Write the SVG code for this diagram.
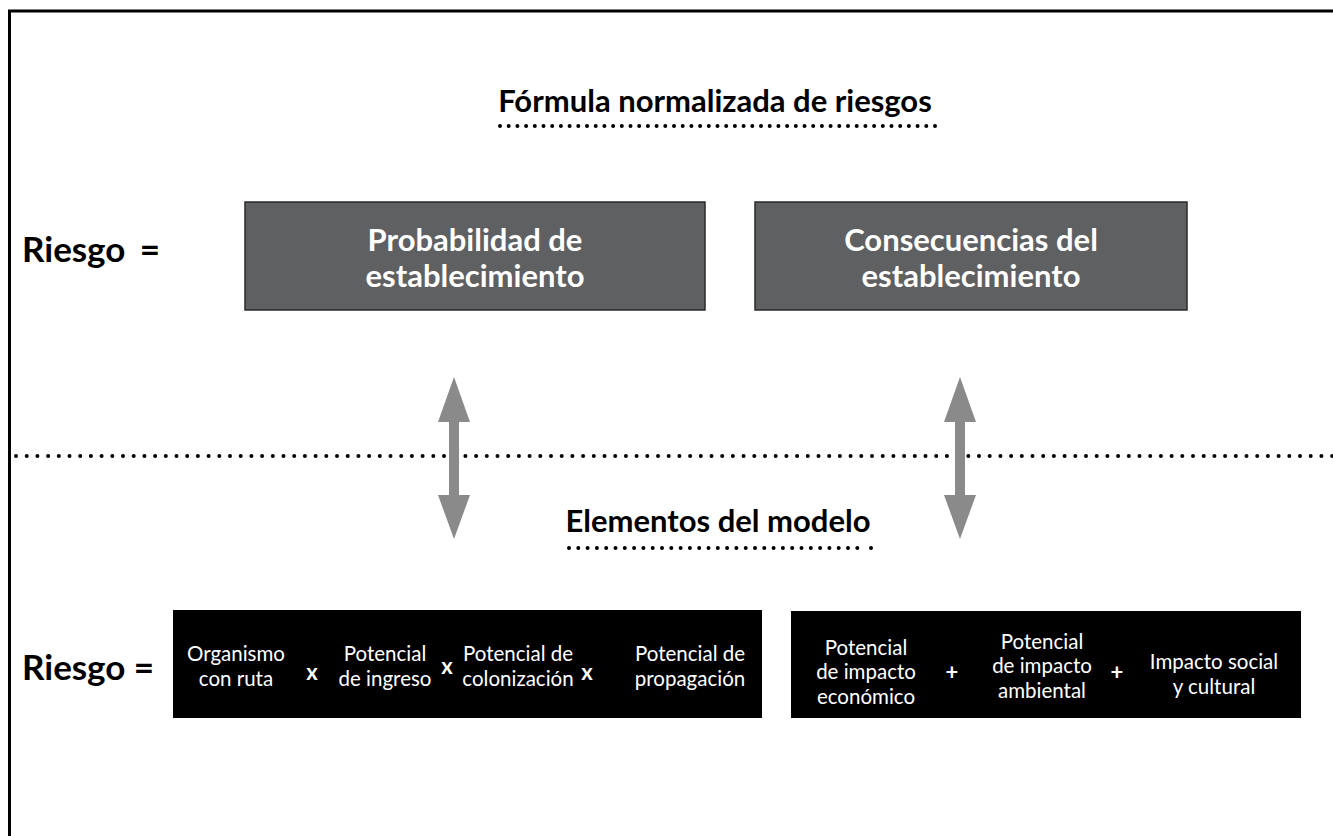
<svg xmlns="http://www.w3.org/2000/svg" width="1333" height="836" viewBox="0 0 1333 836">
<style>
.h{font-family:Lato,"Open Sans","Liberation Sans",sans-serif;font-weight:bold;fill:#000}
.bx{font-family:Lato,"Open Sans","Liberation Sans",sans-serif;font-weight:bold;fill:#fff;font-size:31px;text-anchor:middle}
.t{font-family:Lato,"Open Sans","Liberation Sans",sans-serif;fill:#fff;font-size:20.5px;text-anchor:middle}
.op{font-family:Lato,"Open Sans","Liberation Sans",sans-serif;font-weight:bold;fill:#fff;font-size:22px;text-anchor:middle}
.dots{stroke:#000;stroke-linecap:round;stroke-width:4;fill:none}
.gray{fill:#5f6062;stroke:#2a2a2a;stroke-width:1.5}
.blk{fill:#000}
.arr{fill:#8a8a8a}
</style>
<rect x="0" y="0" width="1333" height="836" fill="#fff"/>
<path d="M9.5 840 V11 H1340" fill="none" stroke="#000" stroke-width="3"/>

<g id="title">
<text class="h" x="715" y="112" font-size="31" text-anchor="middle">Fórmula normalizada de riesgos</text>
<line class="dots" x1="500" y1="126" x2="935" y2="126" stroke-dasharray="0 8.7"/>
</g>

<g id="riesgo-top">
<text class="h" x="22" y="262" font-size="35">Riesgo</text>
<text class="h" x="150" y="262" font-size="35" text-anchor="middle">=</text>
</g>

<g id="node-probabilidad">
<rect class="gray" x="245" y="202" width="460" height="108"/>
<text class="bx" x="475" y="251">Probabilidad de</text>
<text class="bx" x="475" y="287">establecimiento</text>
</g>

<g id="node-consecuencias">
<rect class="gray" x="755" y="202" width="432" height="108"/>
<text class="bx" x="971" y="251">Consecuencias del</text>
<text class="bx" x="971" y="287">establecimiento</text>
</g>

<g id="divider">
<line class="dots" x1="16" y1="456" x2="1333" y2="456" stroke-dasharray="0 10.7"/>
</g>

<g id="connectors">
<path class="arr" d="M454 377 L470 422 L459 422 L459 495 L470 495 L454 539 L438 495 L449 495 L449 422 L438 422 Z"/>
<path class="arr" d="M960 377 L976 422 L965 422 L965 495 L976 495 L960 539 L944 495 L955 495 L955 422 L944 422 Z"/>
</g>

<g id="subtitle">
<text class="h" x="718" y="532" font-size="31" text-anchor="middle">Elementos del modelo</text>
<line class="dots" x1="569" y1="548" x2="858" y2="548" stroke-dasharray="0 9.3"/>
<circle cx="871" cy="548" r="2"/>
</g>

<g id="riesgo-bottom">
<text class="h" x="22" y="680" font-size="35">Riesgo</text>
<text class="h" x="144" y="680" font-size="35" text-anchor="middle">=</text>
</g>

<g id="node-probabilidad-elementos">
<rect class="blk" x="173" y="610" width="589" height="108"/>
<text class="t" x="236" y="661">Organismo</text>
<text class="t" x="236" y="686">con ruta</text>
<text class="op" x="312" y="680">x</text>
<text class="t" x="385" y="661">Potencial</text>
<text class="t" x="385" y="686">de ingreso</text>
<text class="op" x="447" y="674">x</text>
<text class="t" x="518" y="661">Potencial de</text>
<text class="t" x="518" y="686">colonización</text>
<text class="op" x="587" y="680">x</text>
<text class="t" x="690" y="661">Potencial de</text>
<text class="t" x="690" y="686">propagación</text>
</g>

<g id="node-consecuencias-elementos">
<rect class="blk" x="791" y="611" width="510" height="107"/>
<text class="t" x="866" y="655">Potencial</text>
<text class="t" x="866" y="679">de impacto</text>
<text class="t" x="866" y="704">económico</text>
<text class="op" x="952" y="680">+</text>
<text class="t" x="1042" y="649">Potencial</text>
<text class="t" x="1042" y="673">de impacto</text>
<text class="t" x="1042" y="698">ambiental</text>
<text class="op" x="1117" y="680">+</text>
<text class="t" x="1214" y="669">Impacto social</text>
<text class="t" x="1214" y="694">y cultural</text>
</g>
</svg>
